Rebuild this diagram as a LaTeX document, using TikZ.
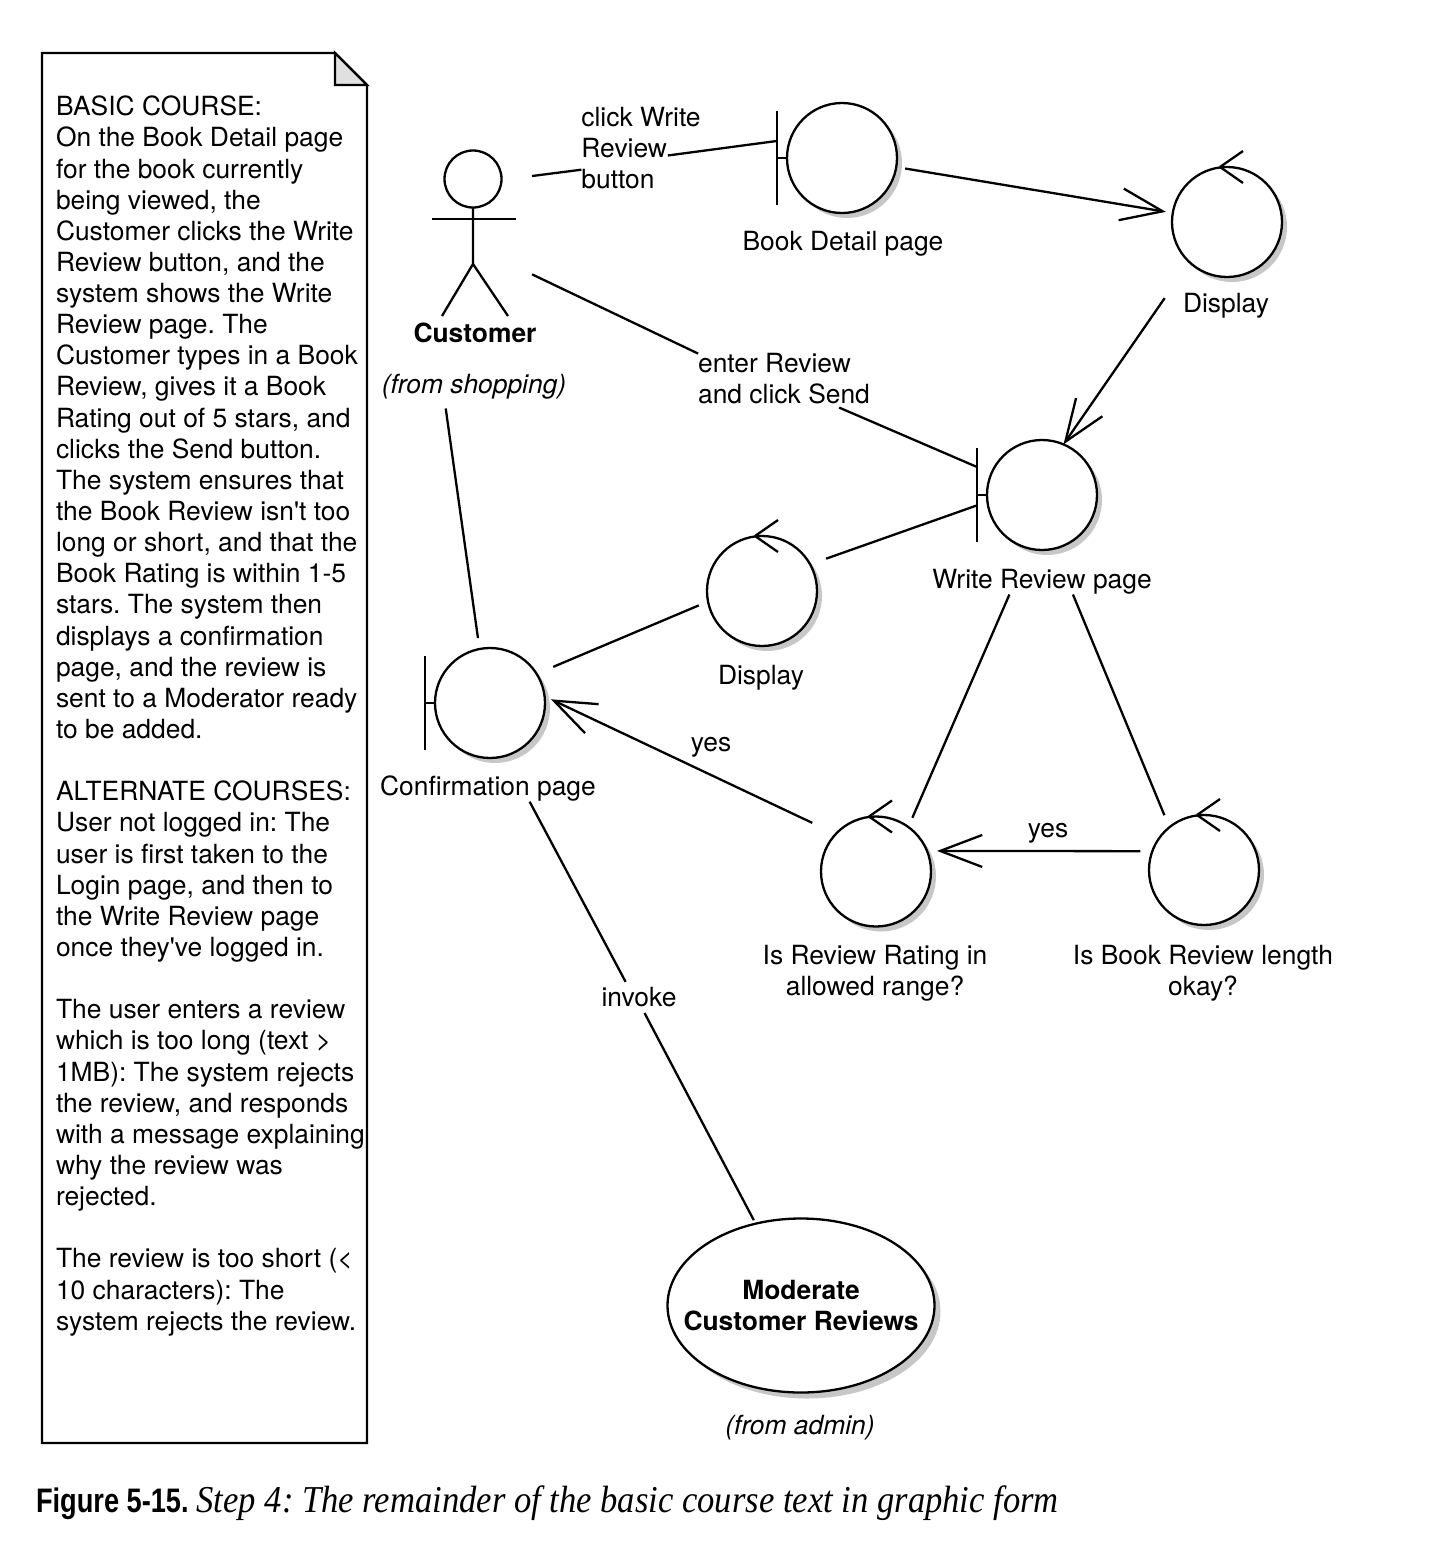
\documentclass[tikz,border=0pt]{standalone}
\usepackage{fontspec}
\setmainfont{TeX Gyre Heros}
\newfontfamily\capsans[FakeStretch=0.8]{Liberation Sans}
\newfontfamily\capserif[FakeStretch=0.91]{Liberation Serif}
\usetikzlibrary{arrows.meta,shapes.geometric,shadows}
\frenchspacing

\tikzset{
    obj/.style={circle,draw,fill=white,minimum size=55pt,inner sep=0,outer sep=0,
        drop shadow={shadow xshift=2.5pt,shadow yshift=-2.5pt,fill=black!22,opacity=1}},
    lbl/.style={inner sep=0,outer sep=0,align=center,font=\fontsize{13.2}{15.57}\selectfont},
    barb/.style={-{Straight Barb[length=21pt,width=16pt]}}
}

\newcommand{\boundaryobj}[2]{
    \node[obj] (#1) at (#2) {};
    \draw (#1.west) -- ++(-10,0) -- ++(0,-47) -- ++(0,94);
}
\newcommand{\controlobj}[2]{
    \node[obj] (#1) at (#2) {};
    \draw ([xshift=-3.5pt]#1.north) -- ++(23,-16);
    \draw ([xshift=-3.5pt]#1.north) -- ++(23,16);
}

\begin{document}
\begin{tikzpicture}[x=0.5pt,y=-0.5pt,line width=1.15pt]
    \useasboundingbox (0,0) rectangle (1452,1547);

    \draw (42,53) -- (335,53) -- (367,85) -- (367,1443) -- (42,1443) -- cycle;
    \draw[fill=black!12] (335,53) -- (367,85) -- (335,85) -- cycle;
    \node[lbl,align=left,anchor=north west] (coursetext) at (56,96) {BASIC COURSE:\\
        On the Book Detail page\\
        for the book currently\\
        being viewed, the\\
        Customer clicks the Write\\
        Review button, and the\\
        system shows the Write\\
        Review page. The\\
        Customer types in a Book\\
        Review, gives it a Book\\
        Rating out of 5 stars, and\\
        clicks the Send button.\\
        The system ensures that\\
        the Book Review isn\textquotesingle t too\\
        long or short, and that the\\
        Book Rating is within 1-5\\
        stars. The system then\\
        displays a confirmation\\
        page, and the review is\\
        sent to a Moderator ready\\
        to be added.\\[15.57pt]
        ALTERNATE COURSES:\\
        User not logged in: The\\
        user is first taken to the\\
        Login page, and then to\\
        the Write Review page\\
        once they\textquotesingle ve logged in.\\[15.57pt]
        The user enters a review\\
        which is too long (text >\\
        1MB): The system rejects\\
        the review, and responds\\
        with a message explaining\\
        why the review was\\
        rejected.\\[15.57pt]
        The review is too short (<\\
        10 characters): The\\
        system rejects the review.};

    % actor
    \node[minimum width=59pt,minimum height=83pt,inner sep=0,outer sep=0] (customer) at (473,233) {};
    \draw (473,179) circle (28.5);
    \draw (473,207.5) -- (473,264) -- (442,316);
    \draw (473,264) -- (508,316);
    \draw (432,219) -- (516,219);
    \node[lbl] (customerlbl) at (475,333) {\bfseries Customer};
    \node[lbl] (shoppinglbl) at (474,387) {\itshape (from shopping)};

    \boundaryobj{bookdetail}{842,158}
    \node[lbl] (bookdetaillbl) at (843,244) {Book Detail page};
    \controlobj{displayone}{1227,222}
    \node[lbl] (displayonelbl) at (1226,306) {Display};
    \boundaryobj{writereview}{1042,495}
    \node[lbl] (writereviewlbl) at (1042,582) {Write Review page};
    \controlobj{displaytwo}{762,591}
    \node[lbl] (displaytwolbl) at (761,678) {Display};
    \boundaryobj{confirmation}{490,703}
    \node[lbl] (confirmationlbl) at (488,789) {Confirmation page};
    \controlobj{reviewrating}{876,871.5}
    \node[lbl] (reviewratinglbl) at (875,973) {Is Review Rating in\\allowed range?};
    \controlobj{reviewlength}{1204,870}
    \node[lbl] (reviewlengthlbl) at (1203,973) {Is Book Review length\\okay?};

    \node[ellipse,draw,fill=white,minimum width=133.5pt,minimum height=87pt,
        drop shadow={shadow xshift=3pt,shadow yshift=-3pt,fill=black!22,opacity=1},
        lbl,inner xsep=-12pt] (moderate) at (801,1305.5) {\bfseries Moderate\\\bfseries Customer Reviews};
    \node[lbl] (moderatelbl) at (800,1428) {\itshape (from admin)};

    \node[lbl,align=left] (clicklbl) at (641,148) {click Write\\Review\\button};
    \node[lbl,align=left] (enterlbl) at (784,379) {enter Review\\and click Send};
    \node[lbl] (invokelbl) at (639,997) {invoke};
    \node[lbl] (yesleft) at (711,747) {yes};
    \node[lbl] (yesright) at (1048,833) {yes};

    \draw (customer.44) -- (clicklbl.200);
    \draw[shorten <=-16.5pt,shorten >=6.5pt] (clicklbl.-3) -- (bookdetail.160);
    \draw[barb,shorten <=4.5pt,shorten >=3.5pt] (bookdetail) -- (displayone);
    \draw[barb,shorten <=21.8pt] (displayone.227) -- (writereview.67);
    \draw (customer.-35) -- (enterlbl.north west);
    \draw[shorten <=4pt,shorten >=8pt] (enterlbl.-28) -- (writereview);
    \draw[shorten <=5.2pt,shorten >=8.5pt] (writereview.187) -- (displaytwo.29);
    \draw[shorten <=5pt,shorten >=9pt] (displaytwo.191) -- (confirmation.32);
    \draw[shorten <=4.5pt,shorten >=5.5pt] (shoppinglbl.203) -- (confirmation.101);
    \draw[shorten >=5pt] (writereviewlbl.201.5) -- (reviewrating.54);
    \draw[shorten >=6.5pt] (writereviewlbl.-22) -- (reviewlength.129);
    \draw[barb,shorten <=6pt,shorten >=5pt] (reviewlength.160) -- (reviewrating.22);
    \draw[barb,shorten <=13pt,shorten >=3.5pt] (reviewrating.137.4) -- (confirmation.7);
    \draw[shorten >=3pt] (confirmationlbl.-17) -- (invokelbl.137);
    \draw[shorten <=3.5pt,shorten >=2pt] (invokelbl.-77) -- (moderate.119.3);

    \node[anchor=base west,inner sep=0,outer sep=0] (caption) at (36,1512)
        {{\capsans\bfseries\fontsize{17}{20}\selectfont Figure 5-15.}\hspace{4pt}{\capserif\itshape\fontsize{19}{20}\selectfont Step 4: The remainder of the basic course text in graphic form}};
\end{tikzpicture}
\end{document}
